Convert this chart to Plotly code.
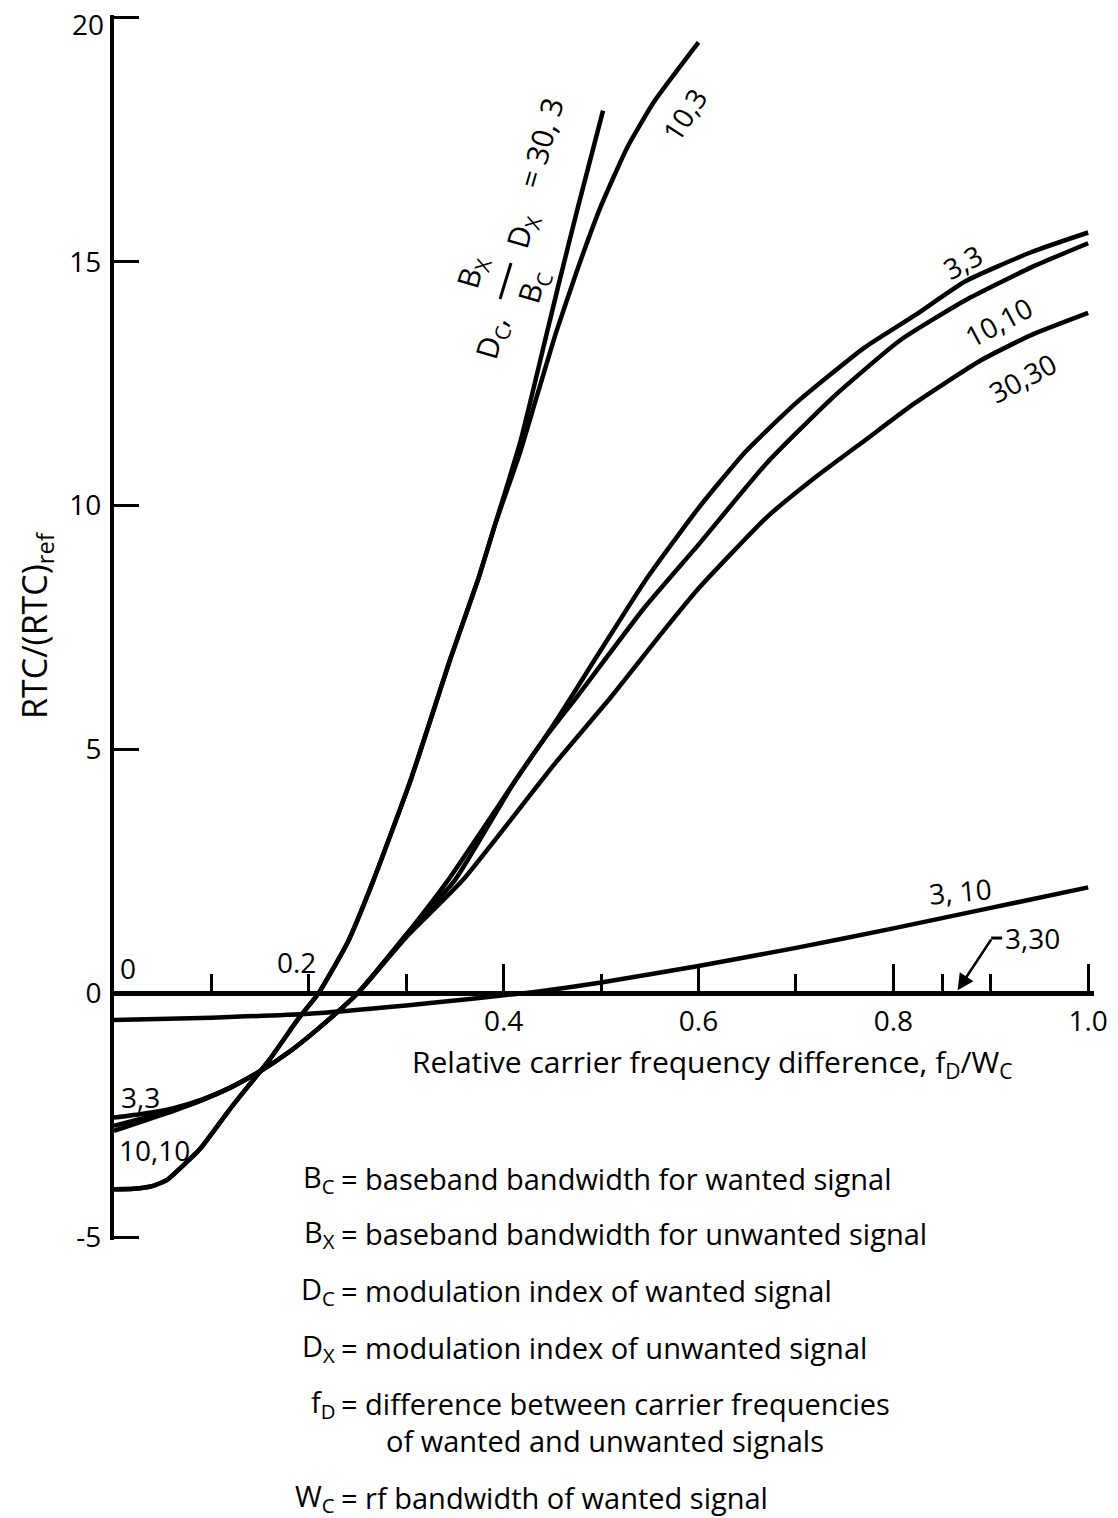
import plotly.graph_objects as go

# Relative carrier frequency difference f_D / W_C and RTC/(RTC)_ref for each (D_C, B_X/B_C * D_X) pair
x_30_3 = [0, 0.02, 0.04, 0.055, 0.07, 0.088, 0.12, 0.16, 0.19, 0.21, 0.24, 0.266, 0.305,
          0.346, 0.374, 0.391, 0.417, 0.427, 0.456, 0.476, 0.502]
y_30_3 = [-4.02, -4.01, -3.95, -3.82, -3.55, -3.2, -2.35, -1.35, -0.5, 0.0, 1.05, 2.3, 4.4,
          6.9, 8.5, 9.6, 11.3, 12.1, 14.5, 16.1, 18.1]

x_10_3 = [0, 0.02, 0.04, 0.055, 0.07, 0.088, 0.12, 0.16, 0.19, 0.21, 0.24, 0.266, 0.305,
          0.346, 0.374, 0.391, 0.417, 0.432, 0.453, 0.475, 0.499, 0.527, 0.555, 0.60]
y_10_3 = [-4.02, -4.01, -3.95, -3.82, -3.55, -3.2, -2.35, -1.35, -0.5, 0.0, 1.05, 2.3, 4.4,
          6.9, 8.5, 9.6, 11.1, 12.1, 13.5, 14.8, 16.1, 17.35, 18.3, 19.5]

x_3_3 = [0, 0.03, 0.06, 0.09, 0.12, 0.15, 0.18, 0.21, 0.25, 0.3, 0.343, 0.41, 0.451, 0.497,
         0.545, 0.6, 0.648, 0.7, 0.771, 0.822, 0.874, 0.942, 1.0]
y_3_3 = [-2.55, -2.47, -2.36, -2.18, -1.93, -1.6, -1.2, -0.72, 0.0, 1.2, 2.32, 4.3, 5.5, 6.95,
         8.45, 9.95, 11.1, 12.1, 13.25, 13.9, 14.6, 15.2, 15.6]

x_10_10 = [0, 0.03, 0.06, 0.09, 0.12, 0.15, 0.18, 0.21, 0.25, 0.3, 0.35, 0.41, 0.443, 0.476,
           0.545, 0.6, 0.67, 0.738, 0.807, 0.874, 0.942, 1.0]
y_10_10 = [-2.72, -2.56, -2.4, -2.19, -1.93, -1.6, -1.2, -0.72, 0.0, 1.2, 2.32, 4.3, 5.25, 6.1,
           7.92, 9.2, 10.87, 12.22, 13.39, 14.21, 14.89, 15.38]

x_30_30 = [0, 0.03, 0.06, 0.09, 0.12, 0.15, 0.18, 0.21, 0.25, 0.3, 0.358, 0.453, 0.51, 0.562,
           0.6, 0.67, 0.72, 0.771, 0.822, 0.89, 0.942, 1.0]
y_30_30 = [-2.82, -2.62, -2.42, -2.2, -1.93, -1.6, -1.2, -0.72, 0.0, 1.15, 2.32, 4.72, 6.07, 7.38,
           8.3, 9.76, 10.58, 11.34, 12.1, 12.98, 13.5, 13.95]

x_3_10 = [0, 0.1, 0.2, 0.3, 0.35, 0.4, 0.43, 0.5, 0.6, 0.7, 0.8, 0.9, 1.0]
y_3_10 = [-0.55, -0.5, -0.42, -0.25, -0.15, -0.04, 0.02, 0.22, 0.56, 0.93, 1.33, 1.75, 2.17]

x_3_30 = [0, 0.25, 0.5, 0.75, 1.0]
y_3_30 = [0, 0, 0, 0, 0]

# Axis ticks
x_major_ticks = [0.4, 0.6, 0.8, 1.0]
x_major_labels = ["0.4", "0.6", "0.8", "1.0"]
x_minor_ticks = [0.1, 0.2, 0.3, 0.5, 0.7, 0.85, 0.9]
y_ticks = [-5, 0, 5, 10, 15, 20]
# the top value is written as a separate label so it sits just below the page edge
y_tick_labels = ["-5", "0", "5", "10", "15", ""]
y_top_label = "20"

# Definitions printed under the chart
symbols = ["B<sub>C</sub>", "B<sub>X</sub>", "D<sub>C</sub>", "D<sub>X</sub>", "f<sub>D</sub>", "", "W<sub>C</sub>"]
definitions = [
    "= baseband bandwidth for wanted signal",
    "= baseband bandwidth for unwanted signal",
    "= modulation index of wanted signal",
    "= modulation index of unwanted signal",
    "= difference between carrier frequencies",
    "of wanted and unwanted signals",
    "= rf bandwidth of wanted signal",
]

FONT = "Open Sans"
WEIGHT = 500
W, H = 1118, 1518
# pixel frame of the data region x 0..1, y -5..20
PX0, PX1 = 114, 1088
PY_TOP, PY_BOT = 18, 1237
X0, X1 = 0.0, 1.0
Y0, Y1 = -5.0, 20.0
sx = (PX1 - PX0) / (X1 - X0)
sy = (PY_BOT - PY_TOP) / (Y1 - Y0)
# axis ranges are padded a hair so the end ticks are kept
XR = [X0, X1 + 0.006]
YR = [Y0 - 0.06, Y1 + 0.06]
ML = PX0
MR = W - (PX0 + (XR[1] - XR[0]) * sx)
MT = PY_TOP - (YR[1] - Y1) * sy
MB = H - (PY_BOT + (Y0 - YR[0]) * sy)
pw = W - ML - MR
ph = H - MT - MB


def dx(px):
    """page x pixel -> data x"""
    return X0 + (px - PX0) / sx


def dy(py):
    """page y pixel -> data y"""
    return Y1 - (py - PY_TOP) / sy


def paper_x(px):
    return (px - ML) / pw


def paper_y(py):
    return (H - MB - py) / ph


def font(size):
    return dict(family=FONT, size=size, color="black", weight=WEIGHT)


fig = go.Figure()
line = dict(color="black", width=4.5, shape="spline", smoothing=0.5)
for xs, ys in [(x_30_3, y_30_3), (x_10_3, y_10_3), (x_3_3, y_3_3), (x_10_10, y_10_10),
               (x_30_30, y_30_30), (x_3_10, y_3_10), (x_3_30, y_3_30)]:
    fig.add_trace(go.Scatter(x=xs, y=ys, mode="lines", line=line, hoverinfo="skip"))

ann = []


def label(text, px, py, angle=0, size=28, xanchor="center", yanchor="middle"):
    ann.append(dict(text=text, x=paper_x(px), y=paper_y(py), xref="paper", yref="paper",
                    showarrow=False, textangle=angle, xanchor=xanchor, yanchor=yanchor,
                    font=font(size)))


# top y tick value
label(y_top_label, 106, 24, xanchor="right")

# curve labels
label("3,3", 962, 262, angle=-28)
label("10,10", 998, 322, angle=-28)
label("30,30", 1022, 378, angle=-28)
label("10,3", 684, 115, angle=-57)
label("3, 10", 960, 891, angle=-5)
label("3,3", 140, 1097)
label("10,10", 154, 1150)

# family label along the steep curves
ang = -74
label("D<sub>C</sub>,", 492, 338, angle=ang, size=30)
label("B<sub>X</sub>", 472, 272, angle=ang, size=30)
label("B<sub>C</sub>", 533, 287, angle=ang, size=30)
label("D<sub>X</sub>", 522, 231, angle=ang, size=30)
label("= 30, 3", 541, 143, angle=ang, size=30)

# tick labels written above the axis line
label("0", 128, 968)
label("0.2", 296, 962)

# 3,30 pointer
ann.append(dict(text="", x=0.866, y=0.06, xref="x", yref="y", ax=dx(992), ay=dy(938),
                axref="x", ayref="y", showarrow=True, arrowhead=2, arrowsize=1.3,
                arrowwidth=2.5, arrowcolor="black"))
label("3,30", 1003, 938, xanchor="left")

# x-axis title
label("Relative carrier frequency difference, f<sub>D</sub>/W<sub>C</sub>", 712, 1063, size=30)

# y-axis title
label("RTC/(RTC)<sub>ref</sub>", 36, 625, angle=-90, size=34)

# definitions
rows_py = [1178, 1233, 1290, 1347, 1403, 1440, 1497]
for sym, text, py in zip(symbols, definitions, rows_py):
    if sym:
        label(sym, 337, py, xanchor="right", size=29)
        label(text, 339, py, xanchor="left", size=29)
    else:
        label(text, 384, py, xanchor="left", size=29)

shapes = [
    # fraction bar of B_X / B_C
    dict(type="line", xref="x", yref="y", x0=dx(500), y0=dy(299), x1=dx(511), y1=dy(263),
         line=dict(color="black", width=3)),
    # short leader to the 3,30 text
    dict(type="line", xref="x", yref="y", x0=dx(991), y0=dy(938), x1=dx(1002), y1=dy(938),
         line=dict(color="black", width=3)),
]

fig.update_layout(
    width=W, height=H,
    margin=dict(l=ML, r=MR, t=MT, b=MB, autoexpand=False),
    paper_bgcolor="white", plot_bgcolor="white",
    showlegend=False,
    font=font(28),
    annotations=ann,
    shapes=shapes,
    xaxis=dict(
        range=XR, anchor="free", position=(0 - YR[0]) / (YR[1] - YR[0]),
        showline=True, linecolor="black", linewidth=4.5,
        ticks="inside", tickvals=x_major_ticks, ticktext=x_major_labels,
        ticklen=27, tickwidth=3, tickcolor="black",
        minor=dict(tickmode="array", tickvals=x_minor_ticks, ticks="inside",
                   ticklen=17, tickwidth=3, tickcolor="black", showgrid=False),
        showgrid=False, zeroline=False, automargin=False,
        tickfont=font(28),
        ticklabelstandoff=1,
        ticklabeloverflow="allow",
    ),
    yaxis=dict(
        range=YR, showline=True, linecolor="black", linewidth=4,
        ticks="inside", tickvals=y_ticks, ticktext=y_tick_labels,
        ticklen=25, tickwidth=3, tickcolor="black",
        showgrid=False, zeroline=False, automargin=False,
        tickfont=font(28),
        ticklabelstandoff=3,
        ticklabeloverflow="allow",
    ),
)

fig.write_html("out.html")
